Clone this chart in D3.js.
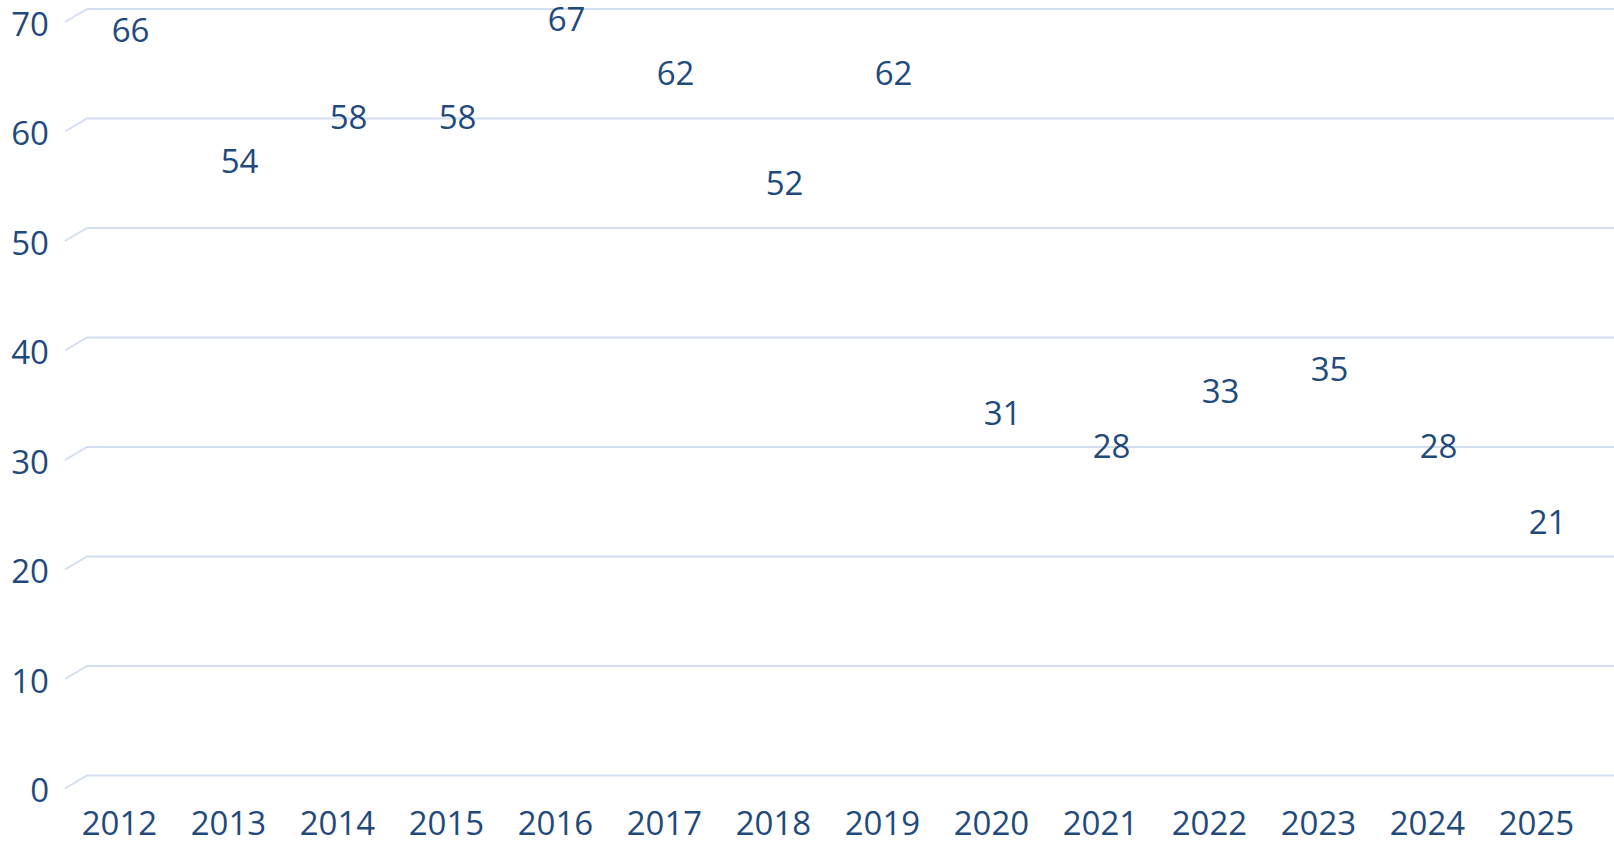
<!DOCTYPE html>
<html>
<head>
<meta charset="utf-8">
<script src="https://cdn.jsdelivr.net/npm/d3@7"></script>
<style>
  html, body { margin: 0; padding: 0; background: #fff; }
  svg { display: block; }
  text { font-family: "Open Sans", "Noto Sans", sans-serif; fill: #1F4A7C; }
</style>
</head>
<body>
<svg id="chart" width="1614" height="844"></svg>
<script>
const categories = ["2012","2013","2014","2015","2016","2017","2018","2019","2020","2021","2022","2023","2024","2025"];
const values = [66, 54, 58, 58, 67, 62, 52, 62, 31, 28, 33, 35, 28, 21];
const yTicks = [0, 10, 20, 30, 40, 50, 60, 70];

const svg = d3.select("#chart");
const W = 1614, H = 844;
const left = 65, right = 1591;       // front plane
const depthX = 22, depthY = 13;      // 3D offset to back wall
const yTop = 22, yBottom = 788.5;    // front plane y range

const x = d3.scaleBand().domain(categories).range([left, right]).padding(0);
const y = d3.scaleLinear().domain([0, 70]).range([yBottom, yTop]);

const gridColor = "#D3DFF1";

// gridlines: diagonal on side wall + horizontal on back wall
const grid = svg.append("g");
yTicks.forEach(t => {
  const yf = y(t);
  grid.append("path")
    .attr("d", `M${left},${yf} L${left + depthX},${yf - depthY} L${W},${yf - depthY}`)
    .attr("fill", "none")
    .attr("stroke", gridColor)
    .attr("stroke-width", 2);
});

// y-axis tick labels
svg.append("g").selectAll("text").data(yTicks).join("text")
  .attr("x", 49)
  .attr("y", d => y(d) + 2)
  .attr("dy", "0.36em")
  .attr("text-anchor", "end")
  .attr("font-size", 33)
  .text(d => d);

// category labels
svg.append("g").selectAll("text").data(categories).join("text")
  .attr("x", d => x(d) + x.bandwidth() / 2)
  .attr("y", yBottom + 35)
  .attr("dy", "0.36em")
  .attr("text-anchor", "middle")
  .attr("font-size", 33)
  .text(d => d);

// invisible 3D bars (no fill in the reference)
svg.append("g").selectAll("rect").data(values).join("rect")
  .attr("x", (d, i) => x(categories[i]) + x.bandwidth() * 0.2)
  .attr("y", d => y(d))
  .attr("width", x.bandwidth() * 0.6)
  .attr("height", d => yBottom - y(d))
  .attr("fill", "none")
  .attr("stroke", "none");

// value labels
svg.append("g").selectAll("text").data(values).join("text")
  .attr("x", (d, i) => x(categories[i]) + x.bandwidth() / 2 + depthX / 2)
  .attr("y", d => y(d) - 36)
  .attr("dy", "0.36em")
  .attr("text-anchor", "middle")
  .attr("font-size", 33)
  .text(d => d);
</script>
</body>
</html>
